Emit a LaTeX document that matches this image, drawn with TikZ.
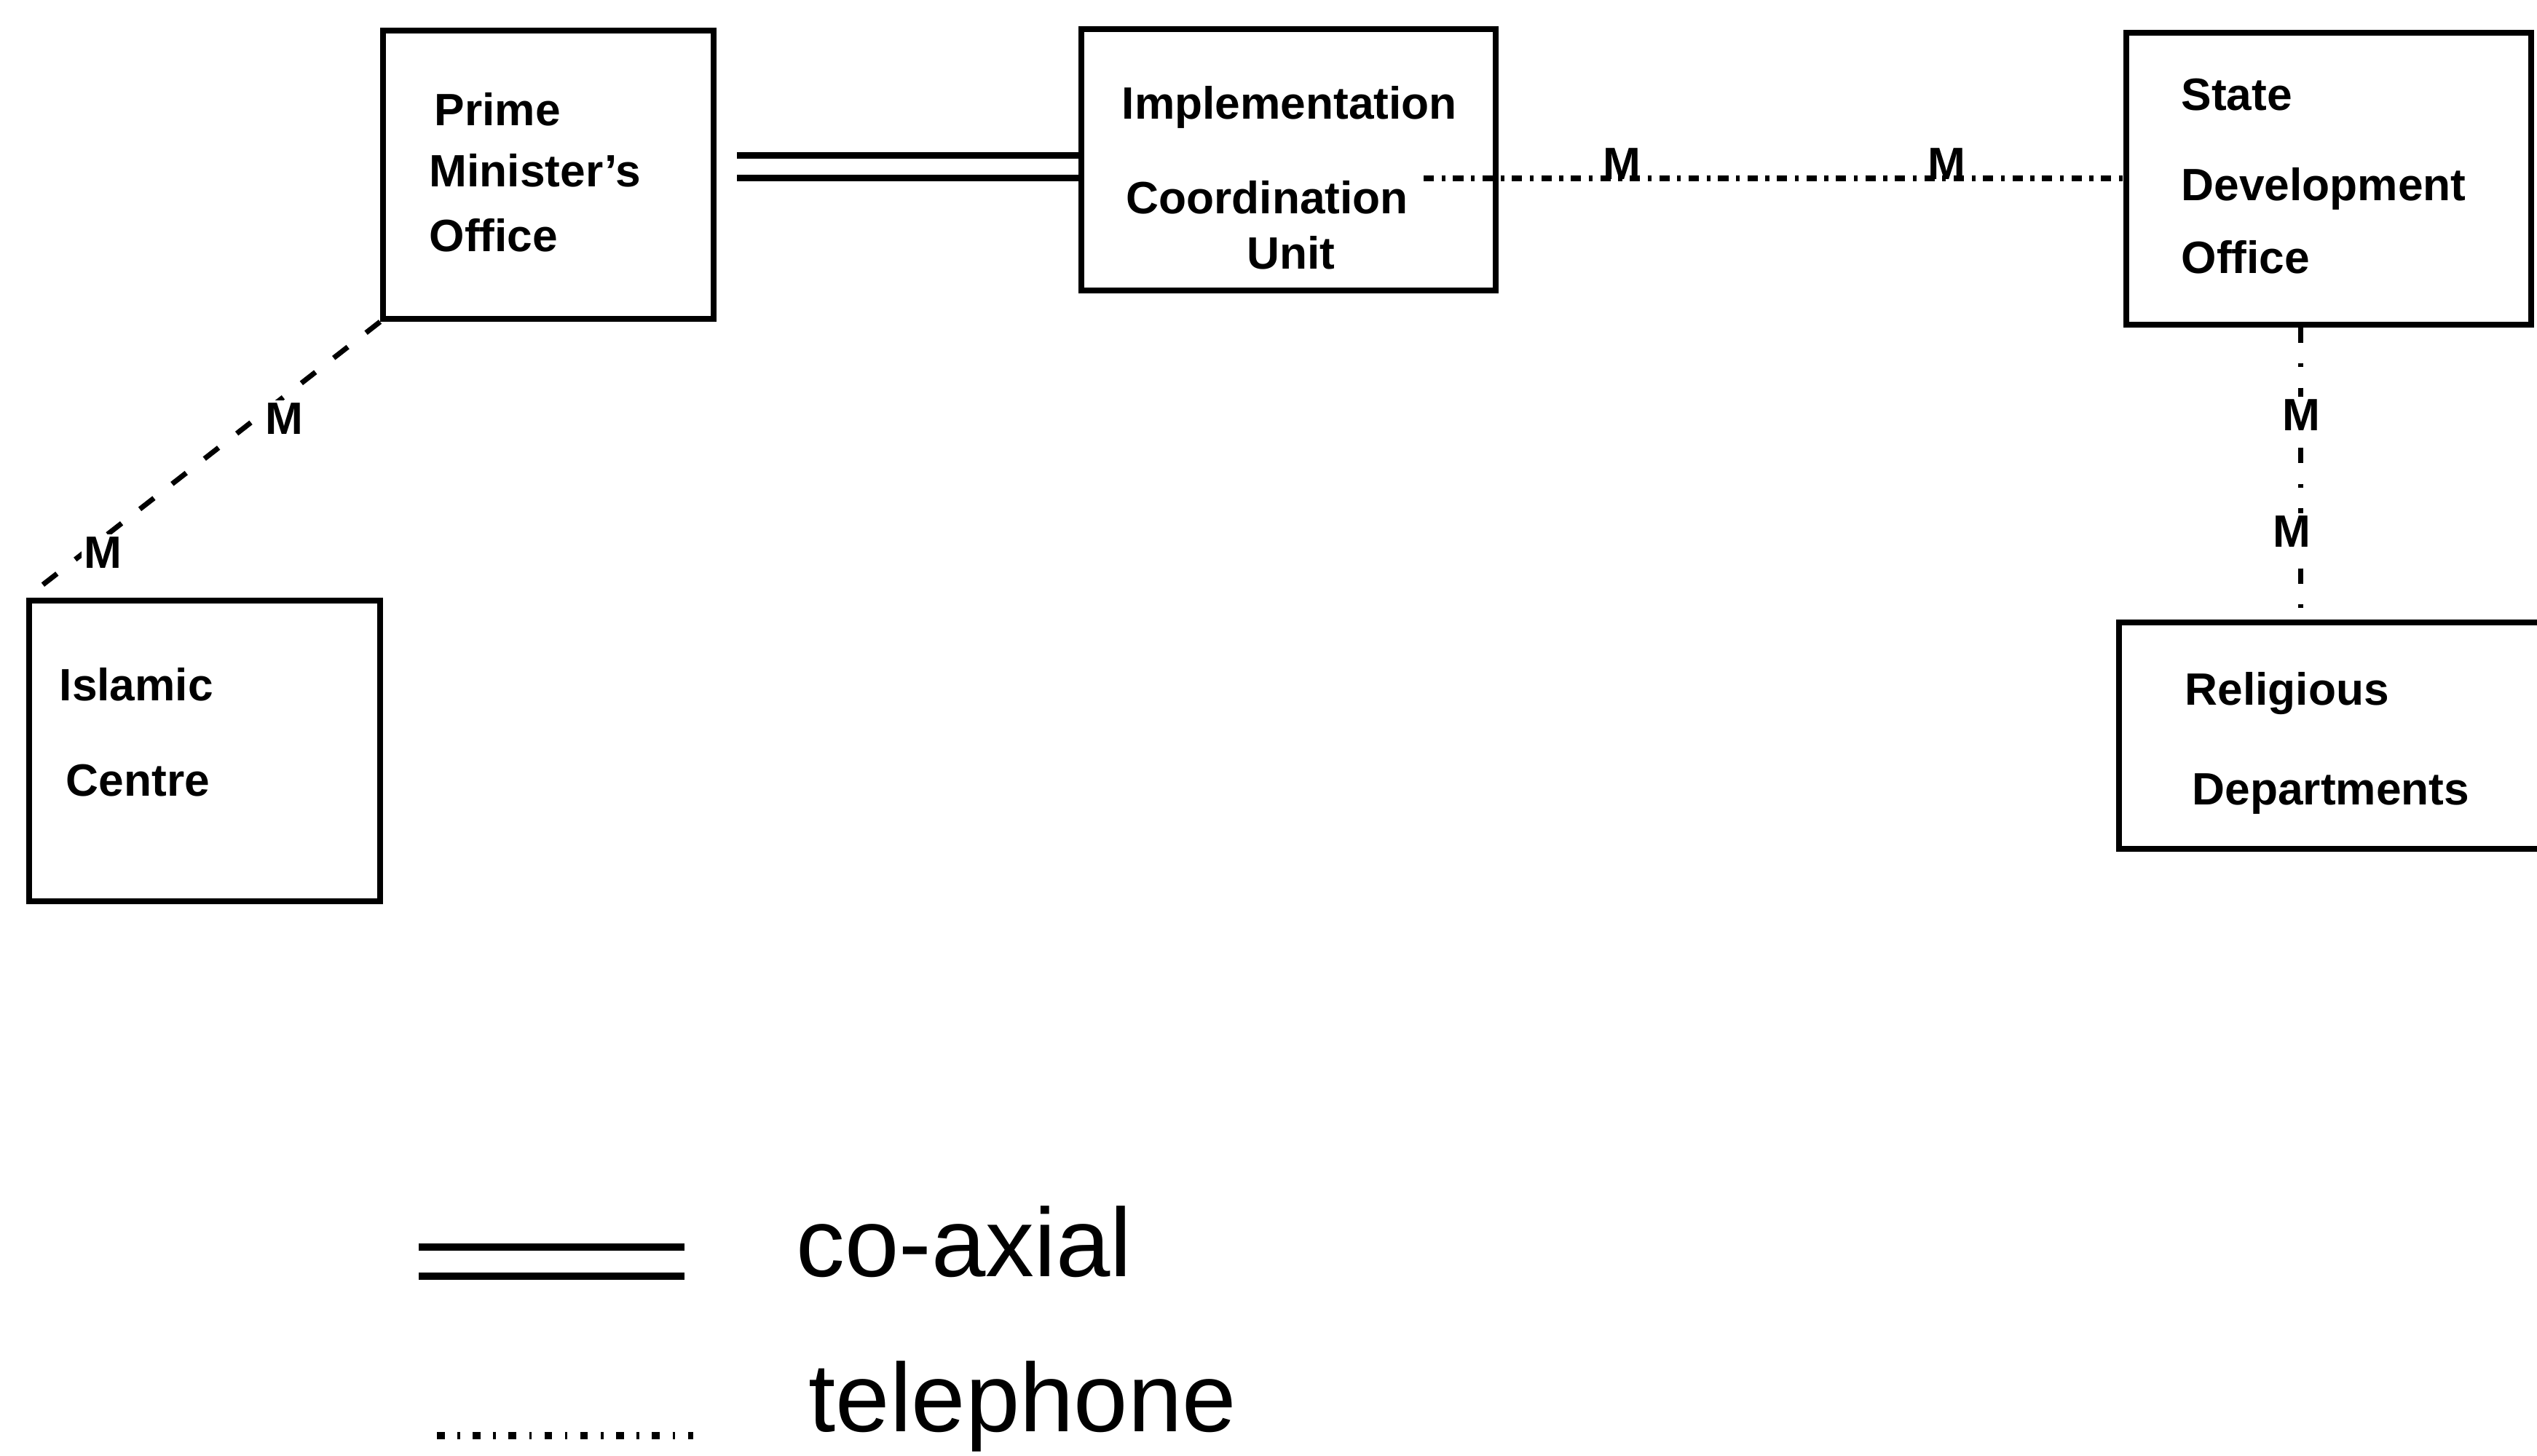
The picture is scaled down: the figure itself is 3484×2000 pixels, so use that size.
\documentclass[tikz,border=0pt]{standalone}
\usepackage{fontspec}
\setmainfont{Liberation Sans}
\usetikzlibrary{calc}

\tikzset{
  box/.style={draw, line width=2.2pt, inner sep=0pt},
  boxtext/.style={anchor=base west, inner sep=0pt, font=\bfseries\fontsize{17.7}{20}\selectfont},
  mlabel/.style={anchor=base, inner sep=1pt, font=\bfseries\fontsize{17.7}{20}\selectfont},
  coax/.style={line width=2.5pt, double distance=6.5pt},
  phone/.style={line width=2pt, dash pattern=on 4pt off 3pt on 1.5pt off 3pt},
  legtext/.style={anchor=base west, inner sep=0pt, font=\fontsize{38}{40}\selectfont}
}

\begin{document}
\begin{tikzpicture}[x=0.01cm, y=-0.01cm]
  \useasboundingbox (0,0) rectangle (3484,2000);

  % offices
  \node[box, minimum width=4.54cm, minimum height=3.96cm] (pmo) at (753,240) {};
  \node[box, minimum width=5.69cm, minimum height=3.59cm] (icu) at (1769.5,219.5) {};
  \node[box, minimum width=5.56cm, minimum height=4.01cm] (sdo) at (3198,245.5) {};
  \node[box, minimum width=4.82cm, minimum height=4.13cm] (ic) at (281,1031.5) {};
  \node[box, minimum width=6.20cm, minimum height=3.11cm] (rd) at (3220,1010.5) {};

  \node[boxtext] (pmo1) at (596,173) {Prime};
  \node[boxtext] (pmo2) at (589,257) {Minister's};
  \node[boxtext] (pmo3) at (589,346) {Office};
  \node[boxtext] (icu1) at (1540,164) {Implementation};
  \node[boxtext] (icu2) at (1546,294) {Coordination};
  \node[boxtext] (icu3) at (1712,369) {Unit};
  \node[boxtext] (sdo1) at (2995,152) {State};
  \node[boxtext] (sdo2) at (2995,275) {Development};
  \node[boxtext] (sdo3) at (2995,375) {Office};
  \node[boxtext] (ic1) at (81,962) {Islamic};
  \node[boxtext] (ic2) at (90,1093) {Centre};
  \node[boxtext] (rd1) at (3000,968) {Religious};
  \node[boxtext] (rd2) at (3010,1105) {Departments};

  % co-axial link
  \coordinate (cx) at (1012,229);
  \draw[coax] (cx) -- (cx -| icu.west);

  % telephone links
  \coordinate (tel) at (1955,245);
  \draw[phone] (tel) -- (tel -| sdo.west);
  \node[mlabel] (mh1) at (2227,247) {M};
  \node[mlabel] (mh2) at (2673,247) {M};

  \draw[phone, dash pattern=on 7pt off 9pt] (pmo.south west) -- (ic.north west);
  \node[mlabel, fill=white] (md1) at (390,596) {M};
  \node[mlabel, fill=white] (md2) at (141,780) {M};

  \coordinate (vtop) at ($(sdo.south west)!0.432!(sdo.south east)$);
  \draw[phone, dash pattern=on 6pt off 8pt on 1.5pt off 8pt] (vtop) -- (vtop |- rd.north);
  \node[mlabel, fill=white] (mv1) at (3160,591) {M};
  \node[mlabel, fill=white] (mv2) at (3147,751) {M};

  % legend
  \coordinate (lgcoax) at (575,1733);
  \coordinate (lgcoaxend) at (940,1733);
  \draw[coax, line width=2.8pt, double distance=8.5pt] (lgcoax) -- (lgcoaxend);
  \node[legtext] (lcoax) at (1093,1753) {co-axial};

  \coordinate (lgtel) at (600,1972);
  \coordinate (lgtelend) at (952,1972);
  \draw[phone, line width=3pt, dash pattern=on 3pt off 5pt on 1pt off 5pt] (lgtel) -- (lgtelend);
  \node[legtext] (ltel) at (1110,1966) {telephone};
\end{tikzpicture}
\end{document}
